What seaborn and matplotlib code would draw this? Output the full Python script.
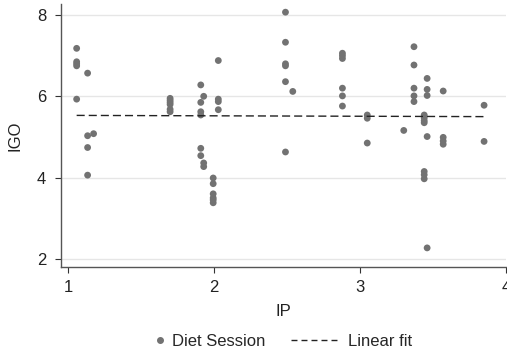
import numpy as np
import pandas as pd
import matplotlib
matplotlib.use("Agg")
import matplotlib.pyplot as plt
import seaborn as sns
from matplotlib.lines import Line2D

sns.set_theme(style="white")
plt.rcParams['font.family'] = ['Liberation Sans', 'DejaVu Sans']

# Data (IP on x, IGO on y)
ip = ([1.06] * 5 + [1.135] * 4 + [1.176] + [1.70] * 6 + [1.91] * 6 + [1.93] * 3 +
      [2.03] * 4 + [1.995] * 6 + [2.49] * 6 + [2.54] + [2.88] * 6 + [3.05] * 3 +
      [3.30] + [3.37] * 5 + [3.44] * 7 + [3.46] * 5 + [3.57] * 4 + [3.85] * 2)
igo = [7.18, 6.85, 6.80, 6.75, 5.93,
       6.57, 5.03, 4.74, 4.06,
       5.08,
       5.95, 5.90, 5.85, 5.80, 5.68, 5.62,
       6.28, 5.85, 5.62, 5.54, 4.72, 4.54,
       6.00, 4.36, 4.27,
       6.88, 5.93, 5.87, 5.67,
       3.99, 3.85, 3.60, 3.50, 3.45, 3.38,
       8.07, 7.33, 6.80, 6.75, 6.36, 4.63,
       6.12,
       7.06, 7.00, 6.93, 6.20, 6.01, 5.76,
       5.54, 5.46, 4.85,
       5.16,
       7.22, 6.77, 6.20, 6.01, 5.87,
       5.54, 5.47, 5.40, 5.35, 4.15, 4.07, 3.97,
       6.44, 6.17, 6.02, 5.01, 2.27,
       6.13, 4.99, 4.90, 4.82,
       5.78, 4.89]
# Linear fit (endpoints)
fit_ip = [1.06, 3.85]
fit_igo = [5.53, 5.50]
x_ticks = [1, 2, 3, 4]
y_ticks = [2, 4, 6, 8]

df = pd.DataFrame({"IP": ip, "IGO": igo})
fit_df = pd.DataFrame({"IP": fit_ip, "IGO": fit_igo})

fig = plt.figure(figsize=(5.07, 3.52), dpi=100)
ax = fig.add_axes([0.1195, 0.2415, 0.8785, 0.747])

dot_color = "#727272"
line_color = "#222222"
ax.grid(axis="y", color="#e6e6e6", linewidth=1.0)
ax.set_axisbelow(True)

sns.scatterplot(data=df, x="IP", y="IGO", ax=ax, color=dot_color, s=24,
                edgecolor="none", zorder=3)
sns.lineplot(data=fit_df, x="IP", y="IGO", ax=ax, color=line_color,
             linestyle=(0, (5.8, 2.9)), linewidth=1.0, zorder=4)

ax.set_xlim(0.95, 4.0)
ax.set_ylim(1.80, 8.27)
ax.set_xticks(x_ticks)
ax.set_yticks(y_ticks)
ax.tick_params(axis="both", which="both", direction="out", length=4.5, width=0.8,
               color="#333333", labelsize=12, labelcolor="#222222", bottom=True, left=True)
ax.tick_params(axis="x", pad=5)
ax.tick_params(axis="y", pad=6)
for s in ["top", "right"]:
    ax.spines[s].set_visible(False)
for s in ["left", "bottom"]:
    ax.spines[s].set_color("#555555")
    ax.spines[s].set_linewidth(1.0)

ax.set_xlabel("IP", fontsize=12, color="#222222", labelpad=6)
ax.set_ylabel("IGO", fontsize=12, color="#222222", labelpad=10)

h_dot = Line2D([], [], marker="o", color=dot_color, linestyle="none", markersize=4)
h_line = Line2D([], [], color=line_color, linestyle=(0, (4.3, 2.9)), linewidth=1.0)
leg1 = fig.legend([h_dot], ["Diet Session"], loc="center left",
                  bbox_to_anchor=(155 / 507, 0.031), frameon=False, fontsize=12,
                  handlelength=0.6, handletextpad=0.4, borderpad=0, borderaxespad=0)
leg2 = fig.legend([h_line], ["Linear fit"], loc="center left",
                  bbox_to_anchor=(291 / 507, 0.031), frameon=False, fontsize=12,
                  handlelength=2.9, handletextpad=0.5, borderpad=0, borderaxespad=0)

fig.savefig("out.png", dpi=100)
